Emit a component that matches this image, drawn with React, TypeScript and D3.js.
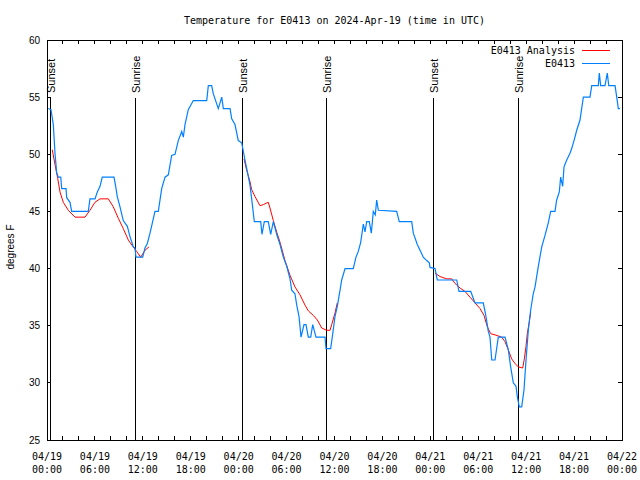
import React, {useRef, useEffect} from 'react';
import * as d3 from 'd3';

// hours since 2024-04-19 00:00 UTC
const obsHours = [0.16, 0.5, 0.79, 1.0, 1.21, 1.41, 1.72, 1.84, 2.38, 2.47, 2.88, 3.09, 5.17, 5.38, 6.01, 6.3, 6.64, 6.92, 8.39, 8.6, 8.8, 9.14, 9.55, 10.06, 10.39, 10.81, 11.02, 11.14, 11.98, 12.27, 12.56, 12.9, 13.52, 13.94, 14.36, 14.78, 15.19, 15.61, 16.03, 16.44, 16.87, 17.07, 17.28, 17.69, 18.32, 20.0, 20.2, 20.62, 20.82, 21.45, 21.88, 22.08, 22.92, 23.13, 23.54, 23.95, 24.38, 24.79, 25.08, 25.42, 25.63, 25.96, 26.76, 26.92, 27.21, 27.71, 28.01, 28.34, 28.76, 29.18, 29.59, 30.02, 30.43, 30.64, 31.05, 31.27, 31.56, 31.81, 32.18, 32.43, 32.72, 33.02, 33.27, 33.68, 34.81, 34.94, 35.52, 35.78, 36.06, 36.35, 36.69, 36.9, 37.32, 38.35, 38.69, 38.98, 39.28, 39.61, 39.82, 40.03, 40.36, 40.61, 40.86, 41.11, 41.28, 41.49, 43.79, 44.11, 45.67, 45.87, 46.37, 47.12, 47.55, 47.87, 47.96, 48.59, 48.87, 51.3, 51.59, 53.06, 53.59, 54.63, 54.97, 55.26, 55.47, 55.69, 56.1, 56.51, 57.35, 57.76, 58.06, 58.39, 58.73, 58.89, 59.14, 59.44, 59.73, 59.98, 60.27, 60.57, 60.89, 61.11, 61.52, 61.95, 62.36, 62.77, 63.07, 63.61, 63.82, 64.15, 64.32, 64.57, 64.74, 65.08, 65.49, 65.7, 65.99, 66.33, 66.74, 67.16, 67.99, 68.21, 69.03, 69.16, 69.33, 69.87, 70.16, 70.34, 71.13, 71.34, 71.54, 71.75];
const obsTemps = [54.0, 53.9, 52.6, 50.1, 48.4, 48.0, 48.0, 47.0, 47.0, 46.2, 45.8, 45.0, 45.0, 46.1, 46.1, 46.7, 47.2, 48.0, 48.0, 47.2, 46.3, 45.4, 44.2, 43.7, 42.8, 41.9, 41.8, 41.0, 41.0, 41.8, 42.2, 43.1, 45.0, 45.0, 47.0, 48.0, 48.2, 49.9, 50.0, 51.2, 52.0, 51.5, 52.6, 53.9, 54.7, 54.7, 56.0, 56.0, 55.3, 54.0, 55.0, 54.0, 54.0, 53.1, 52.6, 51.2, 51.0, 49.5, 48.5, 47.3, 46.1, 44.1, 44.1, 43.0, 44.1, 44.1, 43.0, 44.1, 43.0, 42.1, 41.0, 40.2, 39.1, 38.1, 37.8, 36.8, 35.8, 34.0, 35.1, 35.1, 34.0, 34.0, 35.1, 34.0, 34.0, 33.0, 33.0, 34.3, 35.8, 36.7, 38.1, 39.0, 40.0, 40.0, 41.0, 41.5, 42.3, 43.9, 43.2, 44.1, 44.1, 43.1, 45.0, 44.7, 46.0, 45.1, 45.0, 44.1, 44.1, 43.1, 42.1, 41.0, 40.7, 40.5, 40.1, 40.0, 39.0, 39.0, 38.0, 38.0, 37.0, 37.0, 35.8, 34.5, 34.0, 32.0, 32.0, 34.0, 34.0, 32.9, 31.4, 30.0, 29.7, 28.8, 27.9, 27.9, 29.4, 32.0, 34.6, 36.4, 37.8, 38.4, 40.2, 41.9, 42.9, 44.0, 45.0, 45.0, 46.0, 46.7, 48.0, 47.2, 48.9, 49.5, 50.1, 50.5, 51.2, 52.1, 53.0, 55.0, 55.0, 56.0, 56.0, 57.1, 56.0, 56.0, 57.1, 56.0, 56.0, 55.0, 54.0, 54.0];

// analysis: null marks a gap between runs
const anaHours = [0.66, 1.0, 1.34, 1.63, 2.04, 2.67, 3.51, 4.76, 5.38, 6.01, 6.64, 7.68, 8.3, 8.93, 9.55, 10.18, 10.68, 11.23, 11.73, 12.27, 12.77, null,
  24.67, 25.01, 25.42, 25.63, 26.05, 26.67, 27.09, 27.71, 27.92, 28.34, 28.76, 29.18, 29.8, 30.43, 31.05, 31.68, 32.31, 32.72, 33.35, 33.85, 34.4, 35.02, 35.44, 35.65, 36.06, 36.35, null,
  48.59, 49.22, 50.05, 50.68, 51.09, 51.72, 52.34, 52.97, 53.59, 54.22, 54.72, 55.14, 55.56, 56.1, 56.94, 57.35, 57.76, 58.18, 58.6, 59.01, 59.57, 59.77, 59.98, 60.14, 60.36, 60.57];
const anaTemps = [50.4, 49.1, 47.9, 46.7, 45.8, 45.1, 44.5, 44.5, 45.1, 45.8, 46.1, 46.1, 45.4, 44.4, 43.5, 42.5, 42.0, 41.5, 41.0, 41.6, 41.9, null,
  49.6, 48.6, 47.6, 46.9, 46.3, 45.5, 45.6, 45.8, 45.3, 44.2, 43.2, 42.3, 40.7, 39.4, 38.4, 37.7, 36.8, 36.3, 35.9, 35.5, 34.8, 34.6, 34.6, 35.1, 36.1, 37.0, null,
  39.6, 39.3, 39.1, 39.1, 38.7, 38.3, 38.0, 37.5, 37.0, 36.5, 35.9, 34.9, 34.3, 34.2, 34.0, 33.6, 32.9, 32.1, 31.7, 31.4, 31.3, 32.1, 33.2, 34.3, 35.2, 36.2];

const sunHours = [0.46, 11.11, 24.46, 34.97, 48.37, 59.02];
const sunLabels = ['Sunset', 'Sunrise', 'Sunset', 'Sunrise', 'Sunset', 'Sunrise'];

const tickDates = ['04/19', '04/19', '04/19', '04/19', '04/20', '04/20', '04/20', '04/20', '04/21', '04/21', '04/21', '04/21', '04/22'];
const tickTimes = ['00:00', '06:00', '12:00', '18:00'];
const yTicks = [25, 30, 35, 40, 45, 50, 55, 60];

const W = 640, H = 480;
const M = {left: 47, right: 18, top: 40, bottom: 40};
const mono = '"DejaVu Sans Mono", monospace';
const sans = '"Liberation Sans", Arial, sans-serif';

const App: React.FC = () => {
    const ref = useRef<SVGSVGElement | null>(null);

    useEffect(() => {
        if (!ref.current) return;
        const svg = d3.select(ref.current);
        svg.selectAll('*').remove();

        const x = d3.scaleLinear().domain([0, 72]).range([M.left, W - M.right]);
        const y = d3.scaleLinear().domain([25, 60]).range([H - M.bottom, M.top]);

        svg.append('text')
            .attr('x', (M.left + W - M.right) / 2).attr('y', 24)
            .attr('text-anchor', 'middle')
            .attr('font-family', mono).attr('font-size', 10)
            .text('Temperature for E0413 on 2024-Apr-19 (time in UTC)');

        // ticks (mirrored on all sides)
        const tk = svg.append('g').attr('stroke', '#000').attr('shape-rendering', 'crispEdges');
        d3.range(0, 73, 2).forEach(h => {
            tk.append('line').attr('x1', x(h)).attr('x2', x(h)).attr('y1', y(25)).attr('y2', y(25) - 4);
            tk.append('line').attr('x1', x(h)).attr('x2', x(h)).attr('y1', y(60)).attr('y2', y(60) + 4);
        });
        yTicks.forEach(t => {
            tk.append('line').attr('x1', x(0)).attr('x2', x(0) + 4).attr('y1', y(t)).attr('y2', y(t));
            tk.append('line').attr('x1', x(72)).attr('x2', x(72) - 4).attr('y1', y(t)).attr('y2', y(t));
        });

        svg.append('g').selectAll('text').data(yTicks).join('text')
            .attr('x', M.left - 7).attr('y', d => y(d)).attr('dy', '0.35em')
            .attr('text-anchor', 'end')
            .attr('font-family', sans).attr('font-size', 10)
            .text(d => d);

        const xl = svg.append('g').attr('font-family', mono).attr('font-size', 10).attr('text-anchor', 'middle');
        tickDates.forEach((d, i) => {
            const t = xl.append('text').attr('x', x(i * 6)).attr('y', 460);
            t.append('tspan').attr('x', x(i * 6)).text(d);
            t.append('tspan').attr('x', x(i * 6)).attr('dy', 13).text(tickTimes[i % 4]);
        });

        svg.append('text')
            .attr('transform', `translate(14,247) rotate(-90)`)
            .attr('text-anchor', 'middle')
            .attr('font-family', sans).attr('font-size', 10)
            .text('degrees F');

        // sunrise / sunset markers
        const sun = svg.append('g');
        sunHours.forEach((h, i) => {
            sun.append('line').attr('x1', x(h)).attr('x2', x(h)).attr('y1', 98).attr('y2', y(25))
                .attr('stroke', '#000').attr('shape-rendering', 'crispEdges');
            sun.append('text')
                .attr('transform', `translate(${x(h) + 4.5},93) rotate(-90)`)
                .attr('font-family', sans).attr('font-size', 11)
                .text(sunLabels[i]);
        });

        const obs = obsHours.map((h, i) => [h, obsTemps[i]] as [number, number]);
        const ana = anaHours.map((h, i) => [h, anaTemps[i]] as [number | null, number | null]);

        const line = d3.line<[number | null, number | null]>()
            .defined(d => d[0] !== null)
            .x(d => x(d[0] as number)).y(d => y(d[1] as number));

        svg.append('path').attr('d', line(ana)).attr('fill', 'none')
            .attr('stroke', '#ff0000').attr('stroke-width', 1);
        svg.append('path').attr('d', line(obs)).attr('fill', 'none')
            .attr('stroke', '#0080ff').attr('stroke-width', 1.2);

        // legend
        const lg = svg.append('g').attr('font-family', mono).attr('font-size', 10);
        [['E0413 Analysis', '#ff0000'], ['E0413', '#0080ff']].forEach(([name, c], i) => {
            const ly = 50 + i * 13;
            lg.append('text').attr('x', 575).attr('y', ly).attr('dy', '0.35em')
                .attr('text-anchor', 'end').text(name);
            lg.append('line').attr('x1', 582).attr('x2', 610).attr('y1', ly).attr('y2', ly)
                .attr('stroke', c).attr('shape-rendering', 'crispEdges');
        });

        svg.append('rect')
            .attr('x', x(0)).attr('y', y(60))
            .attr('width', x(72) - x(0)).attr('height', y(25) - y(60))
            .attr('fill', 'none').attr('stroke', '#000').attr('shape-rendering', 'crispEdges');
    }, []);

    return <svg ref={ref} width={W} height={H} style={{position: 'absolute', left: 0, top: 0, background: '#fff'}}></svg>;
};

export default App;
